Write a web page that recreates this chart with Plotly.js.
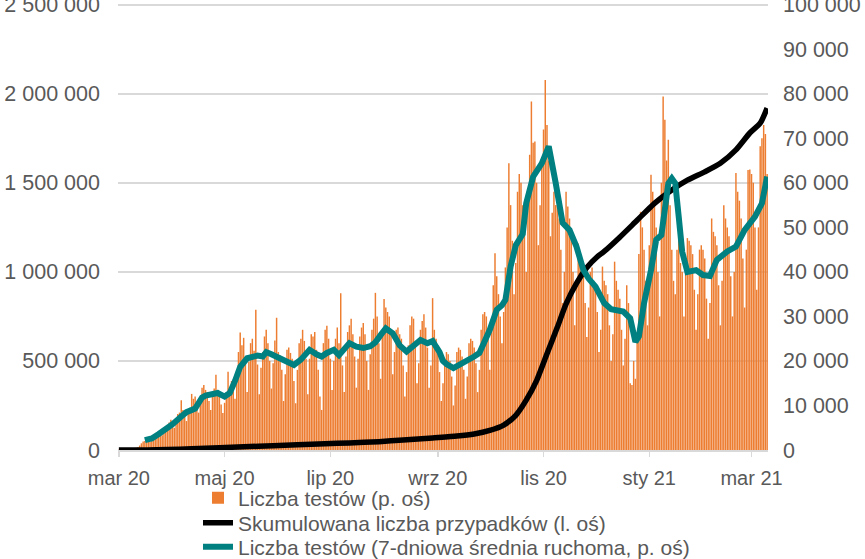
<!DOCTYPE html>
<html>
<head>
<meta charset="utf-8">
<script src="https://cdn.plot.ly/plotly-3.0.1.min.js"></script>
<style>
  html, body { margin: 0; padding: 0; background: #ffffff; }
  #chart { width: 865px; height: 559px; }
</style>
</head>
<body>
<div id="chart"></div>
<script>
// ---- DATA ----
// Daily number of tests (right axis), one value per day starting 2020-03-04
const testsStart = '2020-03-04';
const dailyTests = [
  30, 60, 80, 120, 150, 250, 300,
  200, 300, 400, 500, 700, 1000, 1500,
  1900, 2000, 2300, 2100, 1800, 2500, 3000,
  3500, 3800, 4200, 3900, 3300, 4400, 5000,
  5600, 6200, 6800, 5800, 5000, 6500, 8100,
  8400, 11200, 9000, 7500, 6500, 8900, 9500,
  12600, 11500, 12000, 10100, 8400, 11000, 14000,
  14600, 13500, 13000, 11000, 9000, 12500, 13800,
  16900, 13500, 12800, 10200, 8300, 10600, 13000,
  17600, 14000, 15500, 13200, 11500, 16800, 22000,
  26400, 23500, 25200, 20500, 13000, 19800, 24000,
  25000, 22300, 31500, 19200, 12500, 18500, 22000,
  25500, 27000, 24000, 20000, 13800, 19500, 24600,
  29700, 22000, 21300, 18000, 11000, 17000, 22500,
  23000, 21800, 20500, 15500, 10500, 18000, 24000,
  25000, 27000, 24500, 20500, 12500, 20500, 26000,
  25500, 26500, 22500, 18000, 12000, 9000, 24000,
  27000, 27900, 25000, 20500, 13500, 20000, 25000,
  27500, 24000, 35200, 19000, 13000, 21000, 26500,
  28000, 29500, 26000, 21000, 14000, 20500, 25500,
  27500, 28500, 26000, 20000, 13500, 21500, 27000,
  29500, 35300, 30000, 24000, 16000, 27000, 33900,
  32000, 31000, 30000, 26500, 17000, 22000, 27000,
  27500, 26000, 25000, 19000, 12000, 17500, 23500,
  28000, 30000, 29500, 24000, 15000, 19500, 27000,
  29000, 30500, 27500, 23000, 14000, 19000, 34100,
  27000, 25000, 22500, 17500, 11000, 15000, 20500,
  22000, 21500, 20000, 16500, 10000, 14500, 22000,
  23000, 22500, 21000, 18000, 11500, 16500, 24000,
  25000, 24500, 23000, 19500, 13000, 18000, 27000,
  30500, 31000, 30000, 26000, 18000, 26500, 37000,
  44200, 39000, 35000, 30000, 24000, 31000, 41000,
  50000, 64400, 55000, 47000, 35000, 42000, 58000,
  62000, 60000, 55000, 52000, 40000, 57000, 66300,
  78300, 69000, 69300, 60000, 46000, 55000, 65000,
  72000, 83100, 73000, 65000, 48000, 53300, 58000,
  55000, 55000, 52000, 45000, 33000, 40000, 58000,
  54700, 52000, 48000, 40000, 28000, 38000, 46400,
  44000, 43000, 41000, 33000, 25400, 32000, 40000,
  41000, 38000, 36500, 31000, 22000, 27000, 41200,
  38000, 37000, 35000, 28000, 20000, 26000, 42300,
  38000, 36000, 34000, 27000, 19000, 25000, 37000,
  33000, 15000, 14600, 20000, 16000, 25000, 44000,
  53500, 50000, 45000, 38000, 28000, 46000, 61800,
  58000, 55000, 50000, 40000, 30000, 60000, 79400,
  74200, 65000, 69700, 55000, 45000, 38000, 35000,
  45000, 48000, 42000, 40000, 30000, 40000, 47600,
  47000, 46000, 44000, 36000, 27000, 35000, 45000,
  46000, 45000, 43000, 34000, 25000, 33000, 52000,
  49000, 48000, 46000, 37000, 28000, 38000, 55000,
  52000, 50000, 48000, 39000, 30000, 40000, 62200,
  58000, 56000, 52000, 43000, 32000, 45000, 62900,
  63000, 62000, 60000, 50000, 36000, 50000, 68200,
  70000, 73000, 71000, 62000
];

// 7-day moving average of tests (right axis), read at these dates
const maDates = [
  '2020-03-19','2020-03-23','2020-03-27','2020-03-31','2020-04-04','2020-04-09','2020-04-12',
  '2020-04-17','2020-04-21','2020-04-23','2020-04-27','2020-04-30','2020-05-04','2020-05-07',
  '2020-05-10','2020-05-13','2020-05-17','2020-05-20','2020-05-23','2020-05-26','2020-05-28',
  '2020-05-31','2020-06-04','2020-06-08','2020-06-13','2020-06-17','2020-06-22','2020-06-26',
  '2020-06-29','2020-07-02','2020-07-06','2020-07-09','2020-07-12','2020-07-15','2020-07-19',
  '2020-07-23','2020-07-27','2020-07-30','2020-08-02','2020-08-05','2020-08-09','2020-08-13',
  '2020-08-17','2020-08-21','2020-08-25','2020-08-29','2020-09-01','2020-09-03','2020-09-05',
  '2020-09-07','2020-09-09','2020-09-13','2020-09-17','2020-09-21','2020-09-25','2020-09-28',
  '2020-10-01','2020-10-04','2020-10-08','2020-10-11','2020-10-13','2020-10-16','2020-10-19',
  '2020-10-21','2020-10-23','2020-10-25','2020-10-29','2020-11-03','2020-11-07','2020-11-11',
  '2020-11-15','2020-11-19','2020-11-23','2020-11-27','2020-11-30','2020-12-04','2020-12-09',
  '2020-12-13','2020-12-20','2020-12-24','2020-12-27','2020-12-29','2021-01-01','2021-01-05',
  '2021-01-08','2021-01-11','2021-01-15','2021-01-17','2021-01-19','2021-01-21','2021-01-23',
  '2021-01-26','2021-01-31','2021-02-04','2021-02-08','2021-02-12','2021-02-18','2021-02-23',
  '2021-02-28','2021-03-06','2021-03-10','2021-03-13'
];
const maTests = [
  2200, 2600, 3600, 4600, 5800, 7500, 8500,
  9300, 11800, 12200, 12600, 12800, 12000, 12800,
  15500, 18700, 20600, 21000, 21200, 21000, 22000,
  21500, 20700, 20200, 19100, 20300, 22500, 21500,
  21000, 21800, 22500, 21300, 22500, 24000, 23200,
  22900, 23300, 24200, 25800, 27300, 26200, 23500,
  22100, 23400, 24700, 24000, 24500, 23200, 22000,
  20000, 19300, 18400, 19200, 20200, 21000, 21800,
  24500, 27000, 31500, 32500, 33700, 41200, 46000,
  47500, 48500, 55400, 61400, 64400, 68200, 60000,
  51000, 49400, 45700, 40400, 38500, 36700, 33000,
  31600, 31100, 29600, 24300, 25500, 33000, 40400,
  47200, 48300, 59900, 61000, 59900, 52400, 44500,
  40000, 40400, 39300, 39100, 42700, 44600, 45700,
  49400, 52400, 55400, 61400
];

// Cumulative number of cases (left axis), read at these dates
const cumDates = [
  '2020-03-04','2020-03-20','2020-04-01','2020-04-15','2020-05-01','2020-05-15','2020-06-01',
  '2020-06-15','2020-07-01','2020-07-15','2020-08-01','2020-08-15','2020-09-01','2020-09-15',
  '2020-09-25','2020-10-04','2020-10-12','2020-10-19','2020-10-25','2020-10-31','2020-11-06',
  '2020-11-12','2020-11-17','2020-11-23','2020-11-29','2020-12-05','2020-12-09','2020-12-18',
  '2020-12-28','2021-01-07','2021-01-17','2021-01-26','2021-02-05','2021-02-14','2021-02-23',
  '2021-03-03','2021-03-09','2021-03-13'
];
const cumCases = [
  0, 400, 2500, 7000, 13000, 18000, 24000,
  29000, 35000, 40000, 47000, 56000, 68000, 78000,
  90000, 110000, 140000, 195000, 280000, 390000, 540000,
  690000, 820000, 935000, 1025000, 1085000, 1115000, 1195000,
  1290000, 1385000, 1460000, 1515000, 1562000, 1610000, 1685000,
  1780000, 1835000, 1920000
];

// Axis ticks
const xTickVals = ['2020-03-04','2020-05-04','2020-07-04','2020-09-04','2020-11-04','2021-01-04','2021-03-04'];
const xTickText = ['mar 20','maj 20','lip 20','wrz 20','lis 20','sty 21','mar 21'];

const seriesNames = [
  'Liczba testów (p. oś)',
  'Skumulowana liczba przypadków (l. oś)',
  'Liczba testów (7-dniowa średnia ruchoma, p. oś)'
];

// ---- CHART ----
const FONT = 'Liberation Sans, Arial, sans-serif';
const GREY = '#595959';
const GRID = '#D9D9D9';
const W = 865, H = 559;

const traces = [
  {
    type: 'bar',
    name: seriesNames[0],
    x0: testsStart,
    dx: 86400000,
    y: dailyTests,
    yaxis: 'y',
    legend: 'legend',
    marker: { color: '#ED7D31', line: { width: 0 } }
  },
  {
    type: 'scatter',
    mode: 'lines',
    name: seriesNames[1],
    x: cumDates,
    y: cumCases,
    yaxis: 'y2',
    legend: 'legend2',
    line: { color: '#000000', width: 5.5, shape: 'spline', smoothing: 0.6 }
  },
  {
    type: 'scatter',
    mode: 'lines',
    name: seriesNames[2],
    x: maDates,
    y: maTests,
    yaxis: 'y3',
    legend: 'legend3',
    line: { color: '#008080', width: 6 }
  }
];

function legendAt(cy) {
  return {
    orientation: 'v',
    x: 198 / W,
    xanchor: 'left',
    y: 1 - cy / H,
    yanchor: 'middle',
    xref: 'container',
    yref: 'container',
    bgcolor: 'rgba(0,0,0,0)',
    font: { family: FONT, size: 21, color: GREY },
    itemwidth: 30
  };
}

const layout = {
  width: W,
  height: H,
  margin: { l: 118, r: 97, t: 3, b: 109, pad: 0, autoexpand: false },
  paper_bgcolor: '#ffffff',
  plot_bgcolor: '#ffffff',
  separators: ', ',
  font: { family: FONT, size: 20, color: GREY },
  showlegend: true,
  bargap: 0.15,
  xaxis: {
    type: 'date',
    range: ['2020-03-03 12:00', '2021-03-13 12:00'],
    tickmode: 'array',
    tickvals: xTickVals,
    ticktext: xTickText,
    tickangle: 0,
    showgrid: false,
    zeroline: false,
    showline: true,
    linecolor: GRID,
    linewidth: 1.5,
    ticks: 'outside',
    ticklen: 5,
    tickwidth: 1.5,
    tickcolor: GRID,
    ticklabelstandoff: 4,
    ticklabeloverflow: 'allow',
    tickfont: { family: FONT, size: 20, color: GREY }
  },
  yaxis: {
    side: 'right',
    range: [0, 100400],
    tickmode: 'linear',
    tick0: 0,
    dtick: 10000,
    tickformat: ',d',
    showgrid: false,
    zeroline: false,
    showline: false,
    ticks: '',
    ticklabelstandoff: 14,
    ticklabeloverflow: 'allow',
    tickfont: { family: FONT, size: 21.5, color: GREY }
  },
  yaxis2: {
    side: 'left',
    overlaying: 'y',
    range: [0, 2510000],
    tickmode: 'linear',
    tick0: 0,
    dtick: 500000,
    tickformat: ',d',
    showgrid: true,
    gridcolor: GRID,
    gridwidth: 1.5,
    zeroline: false,
    showline: false,
    ticks: '',
    ticklabelstandoff: 17,
    ticklabeloverflow: 'allow',
    tickfont: { family: FONT, size: 21.5, color: GREY }
  },
  yaxis3: {
    overlaying: 'y',
    side: 'right',
    range: [0, 100400],
    visible: false,
    showgrid: false,
    zeroline: false
  },
  legend: legendAt(498),
  legend2: legendAt(523),
  legend3: legendAt(547)
};

Plotly.newPlot('chart', traces, layout, { displayModeBar: false, staticPlot: true });
</script>
</body>
</html>
